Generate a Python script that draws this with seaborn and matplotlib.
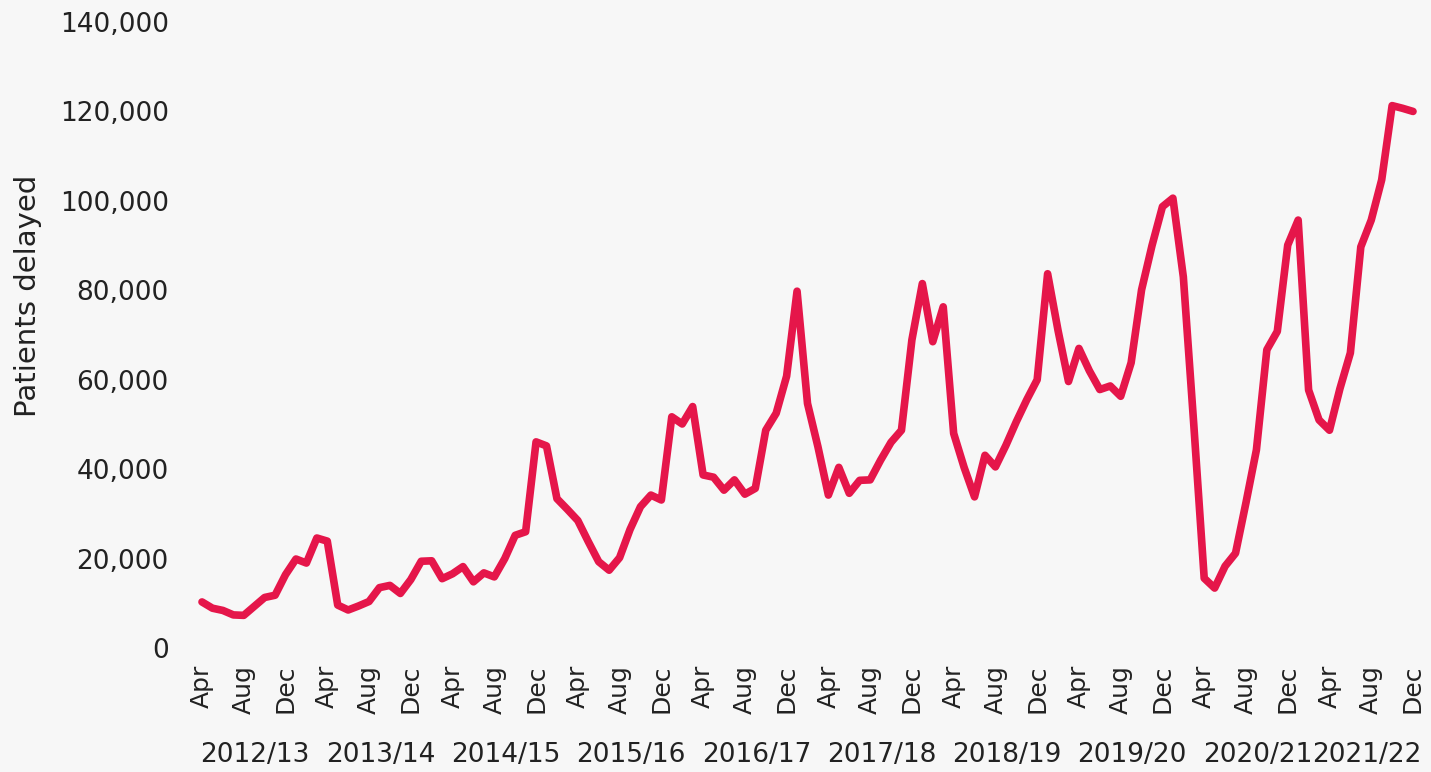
import pandas as pd
import seaborn as sns
import matplotlib.pyplot as plt
import matplotlib.transforms as mtransforms
from matplotlib.ticker import FuncFormatter

# Financial years and month labels
years = ["2012/13", "2013/14", "2014/15", "2015/16", "2016/17",
         "2017/18", "2018/19", "2019/20", "2020/21", "2021/22"]
months = ["Apr", "May", "Jun", "Jul", "Aug", "Sep",
          "Oct", "Nov", "Dec", "Jan", "Feb", "Mar"]

# Patients delayed per month (Apr..Mar)
fy_2012 = [10300, 8900, 8400, 7400, 7300, 9300, 11300, 11800, 16400, 19900, 19000, 24600]
fy_2013 = [23900, 9600, 8500, 9400, 10400, 13500, 14000, 12200, 15300, 19400, 19500, 15500]
fy_2014 = [16600, 18200, 14800, 16800, 15900, 20000, 25200, 26000, 46100, 45200, 33400, 31000]
fy_2015 = [28500, 23800, 19300, 17400, 20200, 26500, 31600, 34200, 33100, 51700, 50100, 54000]
fy_2016 = [38700, 38200, 35300, 37600, 34400, 35700, 48700, 52500, 60800, 79800, 54700, 45000]
fy_2017 = [34200, 40400, 34600, 37500, 37600, 42000, 46000, 48700, 68900, 81500, 68500, 76300]
fy_2018 = [48000, 40400, 33800, 43100, 40500, 45300, 50600, 55500, 60000, 83700, 71000, 59600]
fy_2019 = [67000, 62000, 57800, 58600, 56300, 63800, 80100, 90000, 98700, 100600, 83000, 50000]
fy_2020 = [15600, 13400, 18300, 21200, 32500, 44300, 66700, 70800, 90100, 95700, 57700, 51000]
fy_2021 = [48700, 58000, 66000, 89700, 95700, 104700, 121300, 120700, 120000]

series = [fy_2012, fy_2013, fy_2014, fy_2015, fy_2016,
          fy_2017, fy_2018, fy_2019, fy_2020, fy_2021]

rows = []
t = 0
for yr, vals in zip(years, series):
    for m, v in zip(months, vals):
        rows.append({"t": t, "year": yr, "month": m, "delayed": v})
        t += 1
df = pd.DataFrame(rows)

bg = "#f7f7f7"
red = "#e5164a"

sns.set_theme(style="white", rc={"axes.facecolor": bg, "figure.facecolor": bg})
plt.rcParams["font.family"] = ["DejaVu Sans"]

fig = plt.figure(figsize=(14.31, 7.72), dpi=100)
ax = fig.add_axes([202 / 1431, 124 / 772, 1211 / 1431, 626 / 772])

sns.lineplot(data=df, x="t", y="delayed", ax=ax, color=red,
             linewidth=5.5, clip_on=False)

ax.set_xlim(0, len(df) - 1)
ax.set_ylim(0, 140000)

ticks = list(range(0, len(df), 4))
ax.set_xticks(ticks)
ax.set_xticklabels([df["month"][i] for i in ticks], rotation=90, fontsize=18, color="#222222")
ax.set_yticks(range(0, 140001, 20000))
ax.yaxis.set_major_formatter(FuncFormatter(lambda v, p: f"{int(v):,}"))
ax.tick_params(axis="y", labelsize=19, length=0, pad=24, labelcolor="#222222")
ax.tick_params(axis="x", length=0, pad=12)

ax.set_xlabel("")
ax.set_ylabel("")
sns.despine(ax=ax, left=True, bottom=True)
ax.grid(False)

# financial year labels under the month ticks
trans = mtransforms.blended_transform_factory(ax.transData, ax.transAxes)
for yr in years:
    centre = df.loc[df["year"] == yr, "t"].mean()
    ax.text(centre - 0.4, -0.171, yr, transform=trans, ha="center", va="center",
            fontsize=19, color="#222222")

fig.text(28 / 1431, 1 - 296 / 772, "Patients delayed", rotation=90,
         ha="center", va="center", fontsize=21, color="#222222")

fig.savefig("out.png", dpi=100, facecolor=bg)
